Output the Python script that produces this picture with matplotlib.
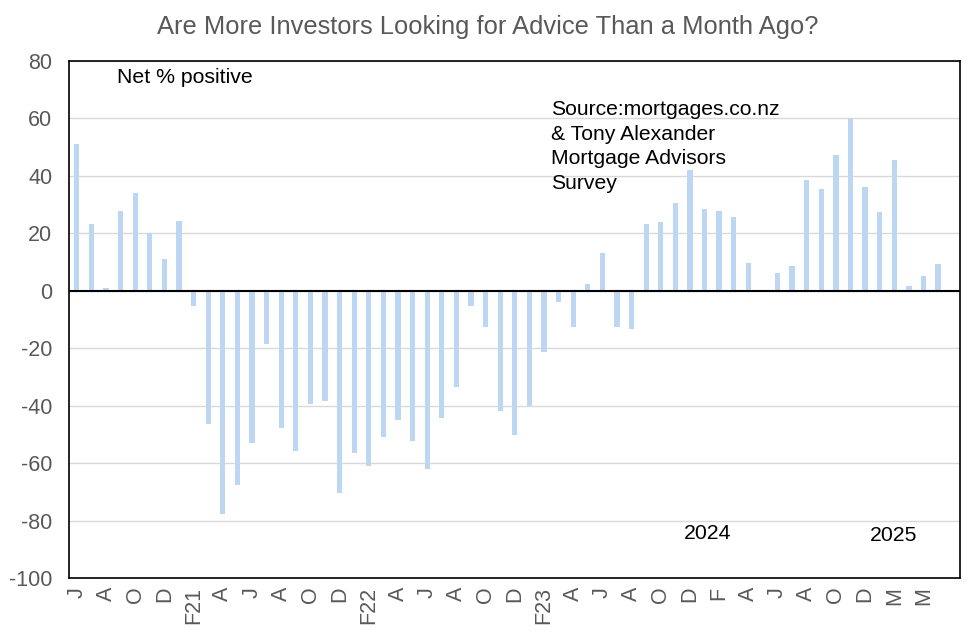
import numpy as np
import matplotlib
matplotlib.use("Agg")
import matplotlib.pyplot as plt

# Monthly net % of investors looking for advice (NaN = no survey)
values = [51.1, 23.0, 1.0, 27.8, 34.1, 20.1, 11.1, 24.3,
          -5.2, -46.5, -77.8, -67.4, -52.8, -18.6, -47.9, -55.9, -39.5, -38.5,
          -70.5, -56.6, -60.8, -51.0, -45.1, -52.1, -62.1, -44.4, -33.6, -5.4,
          -12.8, -42.0, -50.3, -40.2, -21.4, -4.1, -12.8, 2.4, 13.2, -12.8, -13.4,
          23.3, 24.0, 30.6, 42.1, 28.5, 27.8, 25.7, 9.7, np.nan,
          6.3, 8.4, 38.3, 35.2, 47.3, 60.0, 36.2, 27.5, 45.5, 1.7, 5.2, 9.4, np.nan]

tick_labels = ["J", "A", "O", "D", "F21", "A", "J", "A", "O", "D",
               "F22", "A", "J", "A", "O", "D", "F23", "A", "J", "A",
               "O", "D", "F", "A", "J", "A", "O", "D", "M", "M"]

title = "Are More Investors Looking for Advice Than a Month Ago?"
y_ticks = [80, 60, 40, 20, 0, -20, -40, -60, -80, -100]

plt.rcParams['font.family'] = ['Liberation Sans', 'DejaVu Sans']

fig = plt.figure(figsize=(9.76, 6.37), dpi=100)
ax = fig.add_axes([0.0712, 0.0921, 0.9124, 0.8129])

x = np.arange(len(values))
ax.bar(x, values, width=0.36, color="#BDD7F3", zorder=2)

ax.set_xlim(-0.5, len(values) - 0.5)
ax.set_ylim(-100, 80)
ax.set_yticks(y_ticks)
ax.set_yticklabels([str(v) for v in y_ticks], fontsize=15.5, color="#595959")
ax.set_xticks(np.arange(0, 2 * len(tick_labels), 2))
ax.set_xticklabels(tick_labels, rotation=90, fontsize=15.5, color="#595959",
                   va="top", ha="center")
ax.tick_params(axis="both", length=0)
ax.tick_params(axis="y", pad=12.4)
ax.tick_params(axis="x", pad=6)

ax.grid(axis="y", color="#D9D9D9", linewidth=1.0, zorder=0)
ax.axhline(0, color="black", linewidth=1.5, zorder=3)
for s in ax.spines.values():
    s.set_color("black")
    s.set_linewidth(1.2)

fig.text(0.5, 0.958, title, ha="center", va="center", fontsize=18.4,
         color="#595959", family=['Liberation Sans Narrow', 'Liberation Sans', 'DejaVu Sans'])

ax.text(0.053, 0.985, "Net % positive", transform=ax.transAxes, fontsize=15.3,
        va="top", ha="left", color="black")
ax.text(0.5405, 0.924, "Source:mortgages.co.nz\n& Tony Alexander\nMortgage Advisors\nSurvey",
        transform=ax.transAxes, fontsize=15.2, va="top", ha="left", color="black",
        linespacing=1.38)
ax.text(41.6, -84.5, "2024", fontsize=15.3, ha="left", va="center", color="black")
ax.text(54.3, -85, "2025", fontsize=15.3, ha="left", va="center", color="black")

fig.savefig("out.png", dpi=100)
